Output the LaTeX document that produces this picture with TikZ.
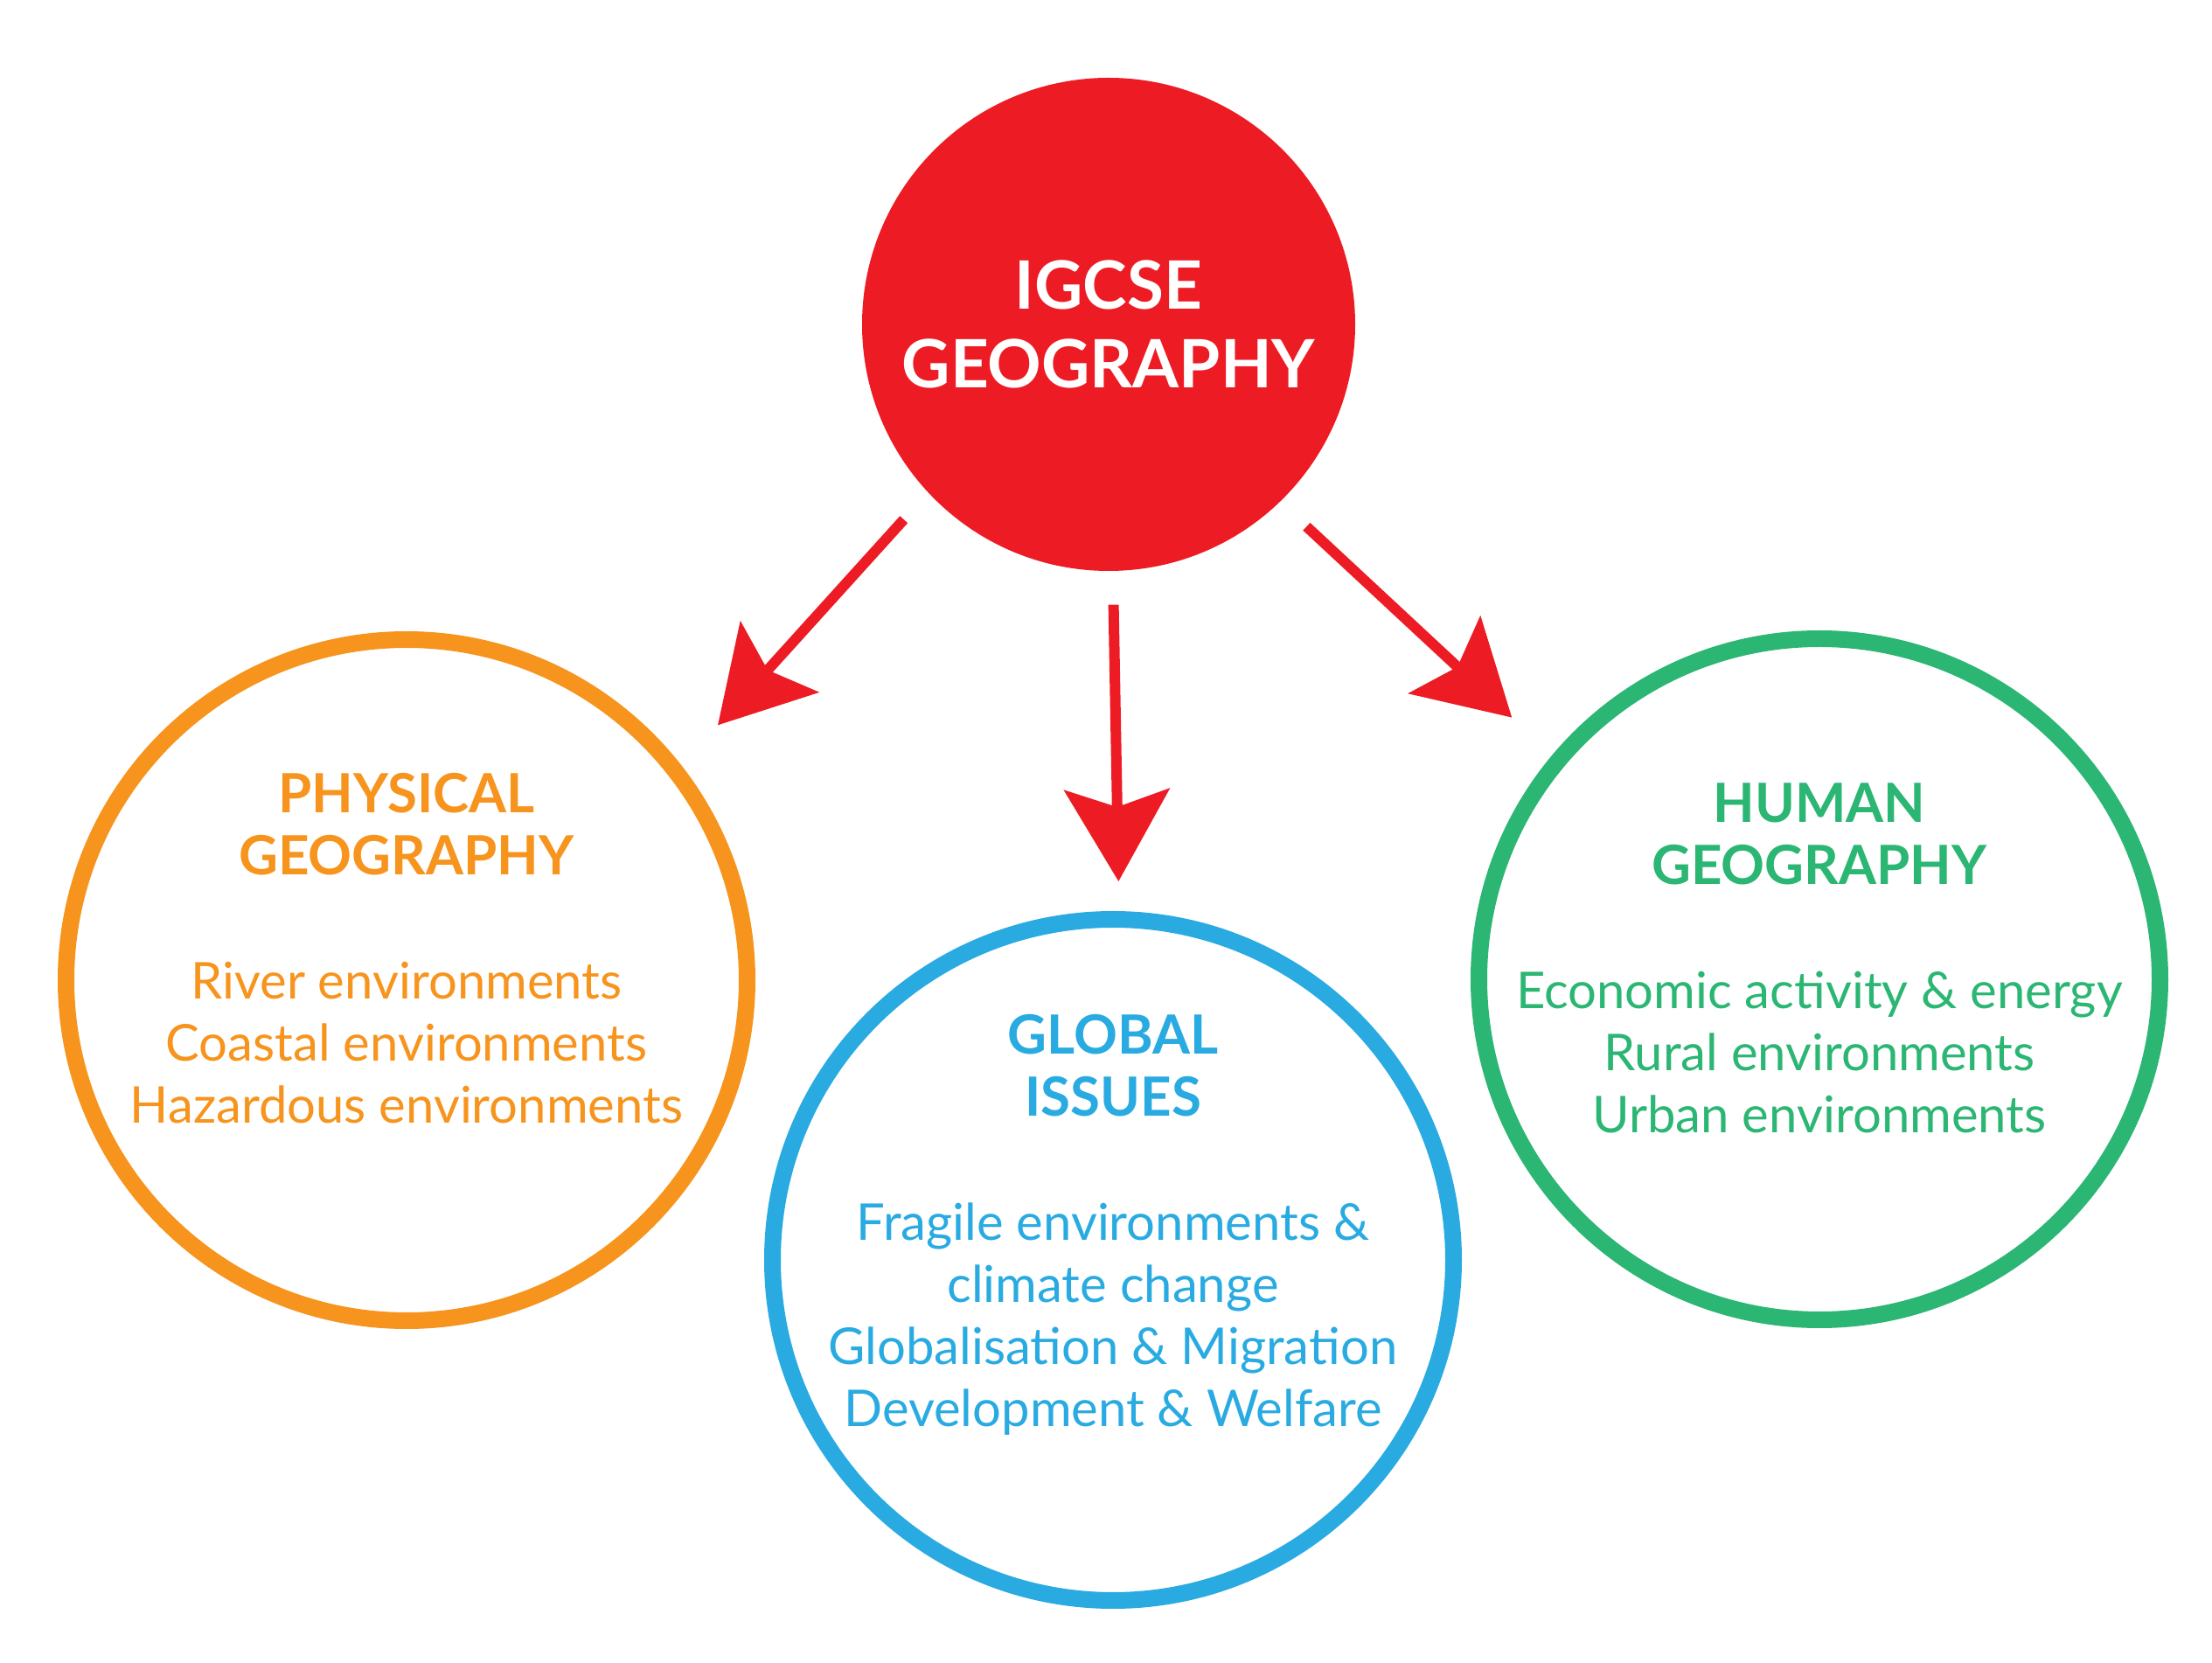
\documentclass[tikz,border=0pt]{standalone}
\usepackage{fontspec}
\setmainfont{Lato}
\usetikzlibrary{arrows.meta,positioning,calc}
\definecolor{igred}   {HTML}{ED1C24}
\definecolor{igorange}{HTML}{F7941D}
\definecolor{igblue}  {HTML}{29ABE2}
\definecolor{iggreen} {HTML}{2BB673}
\newcommand{\hd}[1]{{\bfseries\fontsize{17.6}{20.2}\selectfont #1}}

\begin{document}
\begin{tikzpicture}[
      ring/.style={circle,draw=#1,line width=0.19cm,minimum size=7.79cm,inner sep=0pt},
      txt/.style={text=#1,align=center,font=\fontsize{16.5}{20.2}\selectfont},
      arr/.style={-{Stealth[length=1.05cm,width=1.2cm,inset=0.2cm]},igred,line width=0.12cm}]
    \useasboundingbox (0,0) rectangle (25.30,19.01);
    \node[circle,fill=igred,minimum size=5.64cm,inner sep=0pt] (ig) at (12.68,15.30) {};
    \node[ring=igorange] (phys) at (4.65,7.80) {};
    \node[ring=igblue] (glob) at (12.73,4.60) {};
    \node[ring=iggreen] (hum) at (20.81,7.81) {};
    \node[text=white,align=center,font=\bfseries\fontsize{21.7}{25.7}\selectfont] (igtext) at (ig) {IGCSE\\GEOGRAPHY};
    \node[txt=igorange] (phystext) at ($(phys)+(0,0.36)$)
      {\hd{PHYSICAL}\\\hd{GEOGRAPHY}\\[20.2pt]River environments\\Coastal environments\\Hazardous environments};
    \node[txt=igblue] (globtext) at ($(glob)+(0,0.40)$)
      {\hd{GLOBAL}\\\hd{ISSUES}\\[20.2pt]Fragile environments \&\\climate change\\Globalisation \& Migration\\Development \& Welfare};
    \node[txt=iggreen] (humtext) at ($(hum)+(0,0.24)$)
      {\hd{HUMAN}\\\hd{GEOGRAPHY}\\[20.2pt]Economic activity \& energy\\Rural environments\\Urban environments};
    \draw[arr,shorten <=0.41cm,shorten >=0.62cm] (ig.223.6) -- (phys.38.5);
    \draw[arr,shorten <=0.38cm,shorten >=0.34cm] (ig.271.4) -- (glob.89.1);
    \draw[arr,shorten <=0.41cm,shorten >=0.63cm] (ig.314.9) -- (hum.140.8);
  \end{tikzpicture}
\end{document}
